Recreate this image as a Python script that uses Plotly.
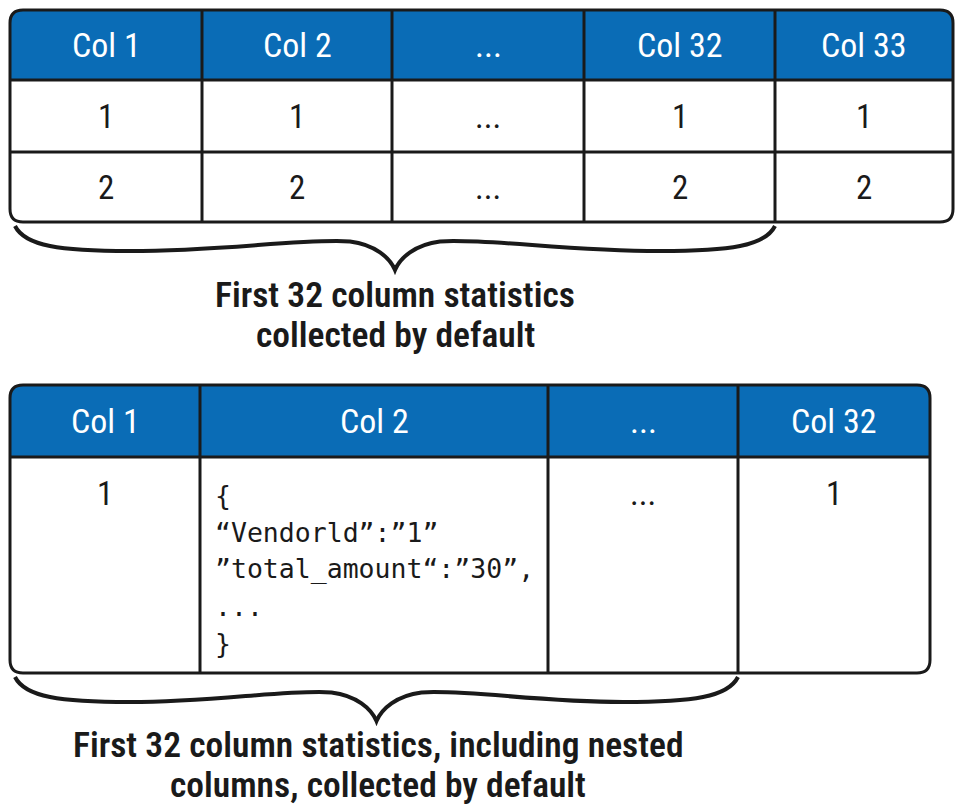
import plotly.graph_objects as go

# ---------------- data ----------------
top_headers = ["Col 1", "Col 2", "...", "Col 32", "Col 33"]
top_row1 = ["1", "1", "...", "1", "1"]
top_row2 = ["2", "2", "...", "2", "2"]
top_caption = ["First 32 column statistics", "collected by default"]

bottom_headers = ["Col 1", "Col 2", "...", "Col 32"]
bottom_row = ["1", None, "...", "1"]
code_lines = ["{", "“Vendorld”:”1”", "”total_amount“:”30”,", "...", "}"]
bottom_caption = ["First 32 column statistics, including nested", "columns, collected by default"]

# ---------------- layout constants ----------------
W, H = 956, 806
BLUE = "#0a6cb6"
INK = "#1a1a1a"
SANS = "Liberation Sans Narrow, Roboto Condensed, Open Sans Condensed, Roboto, sans-serif"
MONO = "DejaVu Sans Mono, Liberation Mono, monospace"

top_x = [10, 202, 392, 584, 775, 953]
top_y = [10, 80, 152, 222]
bot_x = [10, 200, 548, 738, 930]
bot_y = [385, 457, 673]
R = 13


def rpath(x0, y0, x1, y1, tl=0, tr=0, br=0, bl=0):
    p = f"M {x0},{y0+tl} Q {x0},{y0} {x0+tl},{y0} L {x1-tr},{y0} Q {x1},{y0} {x1},{y0+tr} "
    p += f"L {x1},{y1-br} Q {x1},{y1} {x1-br},{y1} L {x0+bl},{y1} Q {x0},{y1} {x0},{y1-bl} Z"
    return p


def brace(x0, x1, yt, depth):
    xm = (x0 + x1) / 2.0
    L = xm - x0
    lo = yt + depth * 0.57
    hi = yt + depth * 0.35
    tip = yt + depth
    p = f"M {x0},{yt} C {x0+10},{yt+20} {x0+45},{lo} {x0+115},{lo} "
    p += f"C {x0+0.55*L},{lo} {xm-0.25*L},{hi-3} {xm-45},{hi} "
    p += f"C {xm-20},{hi+3} {xm-5},{tip-12} {xm},{tip} "
    p += f"C {xm+5},{tip-12} {xm+20},{hi+3} {xm+45},{hi} "
    p += f"C {xm+0.25*L},{hi-3} {x1-0.55*L},{lo} {x1-115},{lo} "
    p += f"C {x1-45},{lo} {x1-10},{yt+20} {x1},{yt}"
    return p


fig = go.Figure()
shapes = []
ann = []

HEAD_FONT = dict(family=SANS, size=34, color="white")
CELL_FONT = dict(family=SANS, size=33, color=INK)
CAP_FONT = dict(family=SANS, size=35.5, color=INK, weight=600)

# ---------- top table ----------
shapes.append(dict(type="path", path=rpath(top_x[0], top_y[0], top_x[-1], top_y[1], tl=R, tr=R),
                   fillcolor=BLUE, line=dict(width=0)))
for yy in top_y[1:3]:
    shapes.append(dict(type="line", x0=top_x[0], x1=top_x[-1], y0=yy, y1=yy, line=dict(color=INK, width=3)))
for xx in top_x[1:-1]:
    shapes.append(dict(type="line", x0=xx, x1=xx, y0=top_y[0], y1=top_y[-1], line=dict(color=INK, width=3)))
shapes.append(dict(type="path", path=rpath(top_x[0], top_y[0], top_x[-1], top_y[-1], R, R, R, R),
                   line=dict(color=INK, width=3)))

for i, h in enumerate(top_headers):
    cx = (top_x[i] + top_x[i + 1]) / 2
    ann.append(dict(x=cx, y=(top_y[0] + top_y[1]) / 2, text=h, font=HEAD_FONT))
    ann.append(dict(x=cx, y=(top_y[1] + top_y[2]) / 2, text=top_row1[i], font=CELL_FONT))
    ann.append(dict(x=cx, y=(top_y[2] + top_y[3]) / 2, text=top_row2[i], font=CELL_FONT))

shapes.append(dict(type="path", path=brace(15, top_x[4], 226, 44), line=dict(color=INK, width=4)))
for j, t in enumerate(top_caption):
    ann.append(dict(x=395, y=295 + 40 * j, text=t, font=CAP_FONT))

# ---------- bottom table ----------
shapes.append(dict(type="path", path=rpath(bot_x[0], bot_y[0], bot_x[-1], bot_y[1], tl=R, tr=R),
                   fillcolor=BLUE, line=dict(width=0)))
shapes.append(dict(type="line", x0=bot_x[0], x1=bot_x[-1], y0=bot_y[1], y1=bot_y[1], line=dict(color=INK, width=3)))
for xx in bot_x[1:-1]:
    shapes.append(dict(type="line", x0=xx, x1=xx, y0=bot_y[0], y1=bot_y[-1], line=dict(color=INK, width=3)))
shapes.append(dict(type="path", path=rpath(bot_x[0], bot_y[0], bot_x[-1], bot_y[-1], R, R, R, R),
                   line=dict(color=INK, width=3)))

for i, h in enumerate(bottom_headers):
    cx = (bot_x[i] + bot_x[i + 1]) / 2
    ann.append(dict(x=cx, y=(bot_y[0] + bot_y[1]) / 2, text=h, font=HEAD_FONT))
    if bottom_row[i] is not None:
        ann.append(dict(x=cx, y=493, text=bottom_row[i], font=CELL_FONT))

for k, line in enumerate(code_lines):
    ann.append(dict(x=213, y=495 + 37 * k, text=line, xanchor="left",
                    font=dict(family=MONO, size=26.5, color=INK)))

shapes.append(dict(type="path", path=brace(15, bot_x[3], 677, 44), line=dict(color=INK, width=4)))
for j, t in enumerate(bottom_caption):
    ann.append(dict(x=378, y=745 + 40 * j, text=t, font=CAP_FONT))

for a in ann:
    a.setdefault("xanchor", "center")
    a.update(xref="x", yref="y", showarrow=False, yanchor="middle")

fig.update_layout(
    width=W, height=H, margin=dict(l=0, r=0, t=0, b=0),
    paper_bgcolor="white", plot_bgcolor="white",
    xaxis=dict(range=[0, W], visible=False, fixedrange=True),
    yaxis=dict(range=[H, 0], visible=False, fixedrange=True),
    shapes=shapes, annotations=ann, showlegend=False,
)
fig.write_html("out.html", config={"displayModeBar": False},
               post_script="document.body.style.margin='0';document.body.style.overflow='hidden';")
